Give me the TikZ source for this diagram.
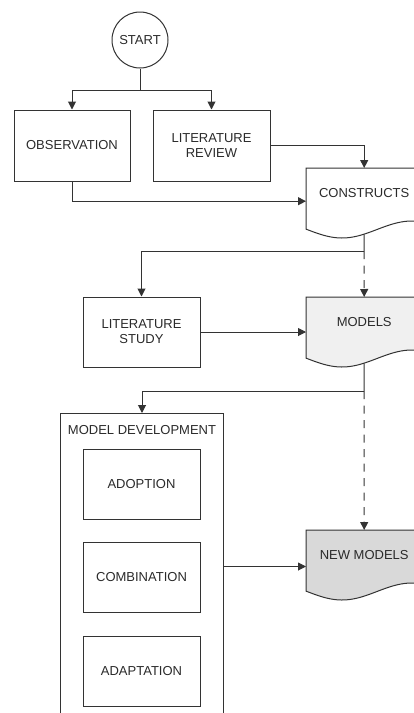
\documentclass[tikz,border=0pt]{standalone}
\usepackage{fontspec}
\setmainfont{Liberation Sans}
\usetikzlibrary{arrows.meta, calc, backgrounds}
\definecolor{linegray}{HTML}{333333}
\definecolor{textgray}{HTML}{2A2A2A}
\definecolor{lightfill}{HTML}{F0F0F0}
\definecolor{darkfill}{HTML}{D9D9D9}
\tikzset{
  box/.style={draw=linegray, line width=1pt, minimum width=117pt, minimum height=70pt, inner sep=0pt, align=center},
  docbox/.style={minimum width=116pt, minimum height=66pt, inner sep=0pt, text height=9.3pt, text depth=16pt, anchor=north west},
  docline/.style={draw=linegray, line width=1pt},
  conn/.style={docline, -{Triangle[length=8pt,width=8pt]}},
  dashconn/.style={conn, dash pattern=on 8pt off 6.5pt},
}
% document shape behind a docbox node: #1 node name, #2 fill
\newcommand{\docshape}[2]{%
  \begin{scope}[on background layer, shift={(#1.north west)}]
    \draw[docline, fill=#2] (0,0) -- (116,0) -- (116,54)
      -- plot[domain=116:0, samples=40] (\x, {61.5+8.5*cos(180*(\x-36)/70)}) -- cycle;
  \end{scope}}

\begin{document}
\begin{tikzpicture}[x=1pt, y=-1pt, font=\fontsize{13}{15}\selectfont, text=textgray]
  \useasboundingbox (0,0) rectangle (414,713);
  \clip (0,0) rectangle (414,713);
  \node[draw=linegray, line width=1pt, circle, minimum size=56pt, inner sep=0pt] (start) at (140,40) {START};
  \node[box, minimum width=116pt, minimum height=71pt] (obs) at (72,145.5) {OBSERVATION};
  \node[box, minimum height=71pt] (litrev) at (211.5,145.5) {LITERATURE\\REVIEW};
  \node[docbox] (cons) at (306,168) {CONSTRUCTS};
  \node[box] (litstudy) at (141.5,332) {LITERATURE\\STUDY};
  \node[docbox] (models) at (306,297) {MODELS};
  \node[docbox] (newmod) at (306,530) {NEW MODELS};
  % model development frame
  \node[draw=linegray, line width=1pt, minimum width=163pt, minimum height=306pt, anchor=north west, inner sep=0pt] (dev) at (60,413) {};
  \node[anchor=north, inner sep=0pt] (devtitle) at ([yshift=-12pt]dev.north) {MODEL DEVELOPMENT};
  \node[box] (adopt) at (141.5,484) {ADOPTION};
  \node[box] (comb) at (141.5,577) {COMBINATION};
  \node[box] (adapt) at (141.5,671) {ADAPTATION};
  \docshape{cons}{white}
  \docshape{models}{lightfill}
  \docshape{newmod}{darkfill}
  % from start to the two boxes
  \coordinate (split) at (140,90);
  \draw[docline] (start) -- (split);
  \draw[conn] (split) -| (obs.north);
  \draw[conn] (split) -| (litrev.north);
  % into constructs
  \draw[conn] (litrev.east) -| (cons.north);
  \draw[conn] (obs.south) |- (cons.west);
  % constructs to models
  \coordinate (b1) at (364,251);
  \draw[docline] (cons.south) -- (b1);
  \draw[conn] (b1) -| (litstudy.north);
  \draw[dashconn] (b1) -- (models.north);
  \draw[conn] (litstudy.east) -- (litstudy.east -| models.west);
  % models to new models
  \coordinate (b2) at (364,391);
  \draw[docline] (models.south) -- (b2);
  \draw[conn] (b2) -| (dev.north);
  \draw[dashconn] (b2) -- (newmod.north);
  \draw[conn] (dev.east) -- (dev.east -| newmod.west);
\end{tikzpicture}
\end{document}
